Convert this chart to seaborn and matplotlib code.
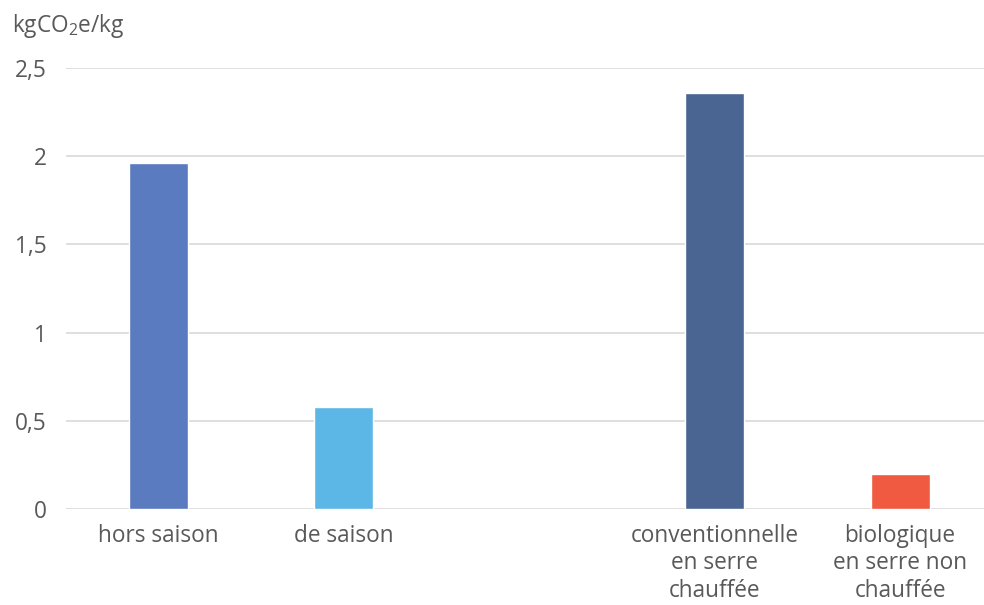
import matplotlib
matplotlib.use("Agg")
import matplotlib.pyplot as plt
import seaborn as sns
import numpy as np
import pandas as pd

categories = ["hors saison", "de saison", " ", "conventionnelle\nen serre\nchauffée", "biologique\nen serre non\nchauffée"]
values = [1.96, 0.58, np.nan, 2.36, 0.20]
colors = ["#5A7BBF", "#5DB7E6", "#FFFFFF", "#4A6591", "#F05A40"]
yticks = [0, 0.5, 1, 1.5, 2, 2.5]
ytick_labels = ["0", "0,5", "1", "1,5", "2", "2,5"]
unit_label = "kgCO$_2$e/kg"

sns.set_theme(style="white")
plt.rcParams["font.family"] = ["Open Sans", "DejaVu Sans"]
plt.rcParams["mathtext.fontset"] = "custom"
plt.rcParams["mathtext.rm"] = "Open Sans"
plt.rcParams["mathtext.it"] = "Open Sans"

W, H = 984, 605
slot = 185.4
left = 65.8
fs = 16.3
fig = plt.figure(figsize=(W / 100, H / 100), dpi=100)
ax = fig.add_axes([left / W, (H - 509) / H, (W - left) / W, 441 / H])

df = pd.DataFrame({"cat": categories, "val": values})
sns.barplot(data=df, x="cat", y="val", hue="cat", palette=colors, order=categories,
            hue_order=categories, width=0.318, legend=False, ax=ax, saturation=1)

ax.set_xlim(-0.5, -0.5 + (W - left) / slot)
ax.set_ylim(0, 2.5)
ax.set_yticks(yticks)
ax.set_yticklabels(ytick_labels)
ax.yaxis.grid(True, color="#D9D9D9", linewidth=1.2)
ax.set_axisbelow(True)
for s in ax.spines.values():
    s.set_visible(False)
ax.set_xlabel("")
ax.set_ylabel("")
tc = "#595959"
ax.tick_params(axis="y", length=0, pad=13.5, labelsize=fs, labelcolor=tc)
ax.tick_params(axis="x", length=0, pad=10.5, labelsize=fs, labelcolor=tc)
for lbl in ax.get_xticklabels():
    lbl.set_linespacing(1.2)

fig.text(12 / W, 1 - 26 / H, unit_label, fontsize=fs, color=tc, ha="left", va="center")

fig.savefig("out.png", dpi=100, facecolor="white")
